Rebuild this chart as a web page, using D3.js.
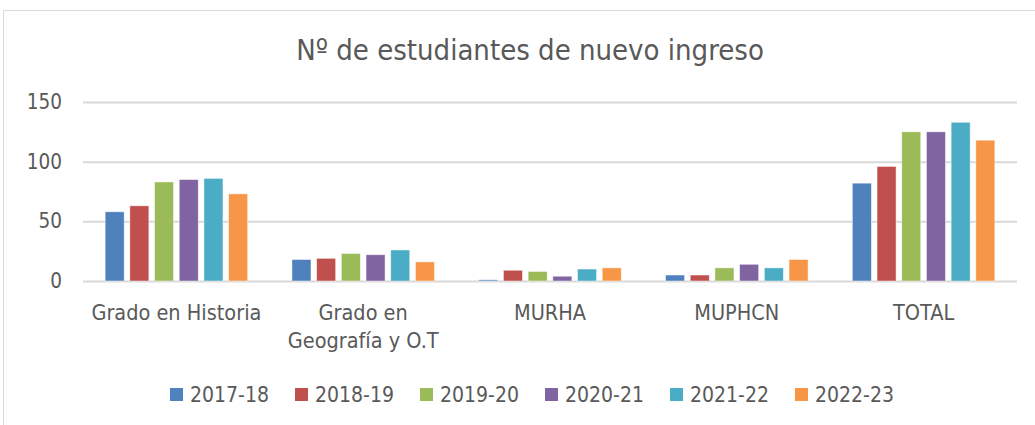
<!DOCTYPE html>
<html>
<head>
<meta charset="utf-8">
<script src="https://cdn.jsdelivr.net/npm/d3@7"></script>
<style>
  body { margin: 0; background: #fff; }
  svg { display: block; }
  text { font-family: 'Liberation Sans Narrow', 'DejaVu Sans Condensed', 'Open Sans', sans-serif; fill: #595959; }
</style>
</head>
<body>
<svg width="1035" height="425"></svg>
<script>
const categories = ['Grado en Historia', 'Grado en Geografía y O.T', 'MURHA', 'MUPHCN', 'TOTAL'];
const categoryLines = [['Grado en Historia'], ['Grado en', 'Geografía y O.T'], ['MURHA'], ['MUPHCN'], ['TOTAL']];
const seriesNames = ['2017-18', '2018-19', '2019-20', '2020-21', '2021-22', '2022-23'];
const seriesColors = ['#4F81BD', '#C0504D', '#9BBB59', '#8064A2', '#4BACC6', '#F79646'];

// one row per category, one value per series
const values2017 = [58, 18, 1, 5, 82];
const values2018 = [63, 19, 9, 5, 96];
const values2019 = [83, 23, 8, 11, 125];
const values2020 = [85, 22, 4, 14, 125];
const values2021 = [86, 26, 10, 11, 133];
const values2022 = [73, 16, 11, 18, 118];
const seriesValues = [values2017, values2018, values2019, values2020, values2021, values2022];

const yTicks = [0, 50, 100, 150];
const title = 'Nº de estudiantes de nuevo ingreso';

const svg = d3.select('svg'),
    width = +svg.attr('width'),
    height = +svg.attr('height');

const margin = { top: 102, right: 18, bottom: 144, left: 83 };
const plotW = width - margin.left - margin.right;
const plotH = height - margin.top - margin.bottom;

// chart frame
svg.append('rect')
  .attr('x', 3.5).attr('y', 10.5)
  .attr('width', width + 10).attr('height', height + 10)
  .attr('fill', 'none')
  .attr('stroke', '#d9d9d9')
  .attr('stroke-width', 1);

svg.append('text')
  .attr('x', 530).attr('y', 60)
  .attr('text-anchor', 'middle')
  .style('font-size', '29px')
  .text(title);

const g = svg.append('g').attr('transform', `translate(${margin.left},${margin.top})`);

const x0 = d3.scaleBand().domain(categories).range([0, plotW]);
const groupW = 142.5;
const x1 = d3.scaleBand().domain(seriesNames)
  .range([(x0.bandwidth() - groupW) / 2, (x0.bandwidth() + groupW) / 2])
  .paddingInner(0.23);
const y = d3.scaleLinear().domain([0, 150]).range([plotH, 0]);

// gridlines + y labels
const yAxis = g.append('g')
  .call(d3.axisLeft(y).tickValues(yTicks).tickSize(-plotW).tickFormat(d3.format('d')));
yAxis.select('.domain').remove();
yAxis.selectAll('.tick line').attr('stroke', '#d9d9d9').attr('stroke-width', 2);
yAxis.selectAll('.tick text')
  .attr('x', -21)
  .style('font-size', '20.5px')
  .style('font-family', null)
  .attr('fill', null);

const rows = categories.map((c, i) => ({
  cat: c,
  vals: seriesNames.map((s, j) => ({ s, v: seriesValues[j][i], color: seriesColors[j] }))
}));

g.append('g').selectAll('g')
  .data(rows).enter().append('g')
  .attr('transform', d => `translate(${x0(d.cat)},0)`)
  .selectAll('rect')
  .data(d => d.vals).enter().append('rect')
    .attr('x', d => x1(d.s))
    .attr('width', x1.bandwidth())
    .attr('y', d => y(d.v))
    .attr('height', d => y(0) - y(d.v))
    .attr('fill', d => d.color)
    .attr('stroke', '#fff')
    .attr('stroke-opacity', 0.6)
    .attr('stroke-width', 0.75);

// category labels
const catLabels = g.append('g').selectAll('text')
  .data(categories).enter().append('text')
  .attr('x', d => x0(d) + x0.bandwidth() / 2)
  .attr('y', plotH + 39)
  .attr('text-anchor', 'middle')
  .style('font-size', '21.5px');
catLabels.each(function(d, i) {
  const t = d3.select(this);
  categoryLines[i].forEach((line, k) => {
    t.append('tspan')
      .attr('x', x0(d) + x0.bandwidth() / 2)
      .attr('dy', k === 0 ? 0 : 28)
      .text(line);
  });
});

// legend
const legendX = [170, 295, 420, 545, 670, 795];
const legend = svg.append('g').selectAll('g')
  .data(seriesNames).enter().append('g')
  .attr('transform', (d, i) => `translate(${legendX[i]},388)`);
legend.append('rect')
  .attr('width', 13).attr('height', 13)
  .attr('y', 0)
  .attr('fill', (d, i) => seriesColors[i]);
legend.append('text')
  .attr('x', 20).attr('y', 13.5)
  .style('font-size', '21px')
  .text(d => d);
</script>
</body>
</html>
